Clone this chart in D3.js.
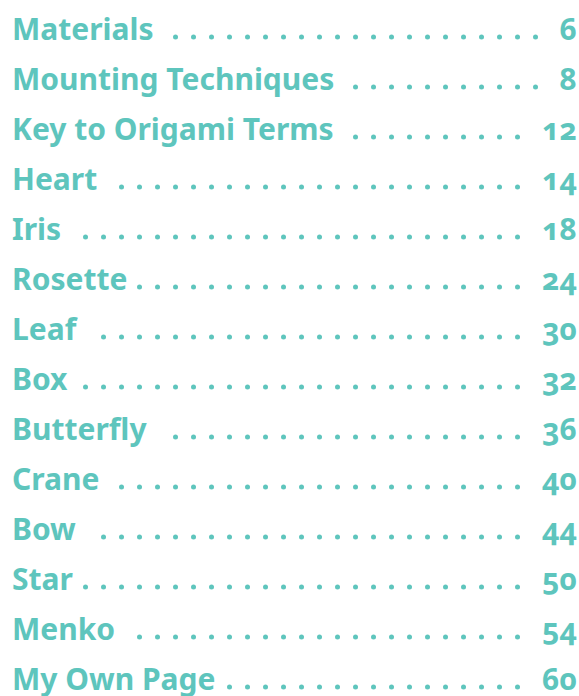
<!DOCTYPE html>
<html>
<head>
<meta charset="utf-8">
<script src="https://cdn.jsdelivr.net/npm/d3@7"></script>
<style>
  body { margin: 0; background: #fff; overflow: hidden; }
  svg { display: block; }
</style>
</head>
<body>
<div id="toc"></div>
<script>
// table of contents entries
var titles = ["Materials", "Mounting Techniques", "Key to Origami Terms", "Heart", "Iris",
  "Rosette", "Leaf", "Box", "Butterfly", "Crane", "Bow", "Star", "Menko", "My Own Page"];
var pages = [6, 8, 12, 14, 18, 24, 30, 32, 36, 40, 44, 50, 54, 60];

var width = 579, height = 696;
var teal = "#5ec5bd";

var svg = d3.select("#toc").append("svg")
    .attr("width", width)
    .attr("height", height);

// one baseline per entry
var y = d3.scalePoint().domain(titles).range([40, 690]);

// leader dots sit on a fixed grid across the page
var dotSlots = d3.range(0, 30);
var x = d3.scaleLinear().domain([0, 29]).range([13.5, 535.5]);

var rows = svg.selectAll("g.row")
    .data(titles)
    .enter()
    .append("g")
    .attr("class", "row")
    .attr("transform", function (d) { return "translate(0," + y(d) + ")"; });

rows.append("text")
    .attr("class", "title")
    .attr("x", 12)
    .attr("y", 0)
    .style("font-family", "'Noto Sans'")
    .style("font-weight", 700)
    .style("font-size", "30px")
    .attr("fill", teal)
    .text(function (d) { return d; });

rows.append("text")
    .attr("class", "page")
    .attr("x", 577)
    .attr("y", 0)
    .attr("text-anchor", "end")
    .style("font-family", "'Noto Sans'")
    .style("font-weight", 700)
    .style("font-size", "30px")
    .style("font-variant-numeric", "oldstyle-nums")
    .attr("fill", teal)
    .text(function (d, i) { return pages[i]; });

// add the leaders between title and page number
rows.each(function () {
  var row = d3.select(this);
  var textEnd = 12 + row.select(".title").node().getComputedTextLength();
  var numStart = 577 - row.select(".page").node().getComputedTextLength();
  row.selectAll("circle")
      .data(dotSlots.filter(function (k) { return x(k) >= textEnd + 11 && x(k) <= numStart - 15; }))
      .enter()
      .append("circle")
      .attr("cx", function (k) { return x(k); })
      .attr("cy", -3)
      .attr("r", 2.5)
      .attr("fill", teal);
});
</script>
</body>
</html>
